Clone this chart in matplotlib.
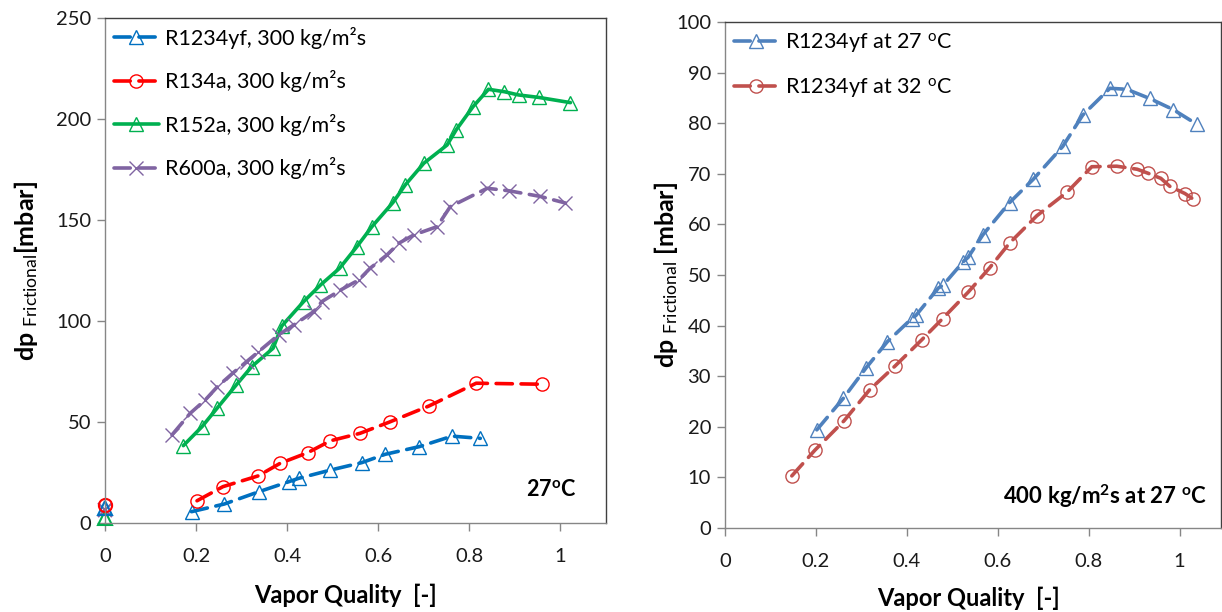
import numpy as np
import matplotlib
matplotlib.use('Agg')
import matplotlib.pyplot as plt

plt.rcParams['font.family'] = ['Lato', 'DejaVu Sans']
plt.rcParams['mathtext.fontset'] = 'custom'
plt.rcParams['mathtext.rm'] = 'Lato'
plt.rcParams['mathtext.it'] = 'Lato:italic'
plt.rcParams['mathtext.bf'] = 'Lato:bold'

# ---- left panel: 300 kg/m2s, 27 C ----
x_r1234yf = [0.190, 0.262, 0.338, 0.403, 0.425, 0.495, 0.564, 0.615, 0.690, 0.762, 0.824]
dp_r1234yf = [5.6, 9.4, 15.5, 20.4, 22.1, 26.2, 29.9, 34.0, 37.8, 43.0, 41.9]

x_r134a = [0.202, 0.259, 0.336, 0.385, 0.445, 0.495, 0.560, 0.626, 0.711, 0.815, 0.960]
dp_r134a = [11.0, 18.0, 23.3, 29.6, 34.8, 40.7, 44.4, 50.1, 57.9, 69.2, 68.7]

x_r152a = [0.172, 0.213, 0.246, 0.288, 0.322, 0.369, 0.388, 0.436, 0.473, 0.515, 0.553,
           0.586, 0.632, 0.659, 0.700, 0.751, 0.771, 0.808, 0.842, 0.877, 0.908, 0.952, 1.022]
dp_r152a = [38.3, 47.7, 56.8, 68.3, 77.4, 86.5, 97.5, 109.6, 117.8, 126.1, 136.8,
            146.7, 158.6, 167.3, 178.1, 187.1, 194.6, 206.1, 214.7, 213.5, 211.9, 210.7, 208.1]

x_r600a = [0.147, 0.187, 0.220, 0.246, 0.282, 0.311, 0.337, 0.381, 0.414, 0.458, 0.476, 0.517,
           0.557, 0.582, 0.619, 0.645, 0.678, 0.729, 0.758, 0.839, 0.886, 0.955, 1.011]
dp_r600a = [43.6, 54.3, 60.9, 67.3, 74.5, 79.9, 84.8, 93.1, 98.0, 104.6, 109.6, 115.3,
            120.3, 126.1, 132.7, 138.5, 142.6, 146.7, 156.6, 165.7, 164.5, 161.7, 158.4]

# single points logged at zero quality
dp0_r1234yf = 7.4
dp0_r134a = 8.9
dp0_r152a = 2.5
dp0_r600a = 6.4

# ---- right panel: R1234yf, 400 kg/m2s ----
x_27 = [0.202, 0.260, 0.310, 0.357, 0.411, 0.420, 0.469, 0.480, 0.524, 0.535, 0.567,
        0.626, 0.678, 0.743, 0.787, 0.847, 0.884, 0.934, 0.986, 1.038]
dp_27 = [19.4, 25.6, 31.6, 36.8, 41.4, 42.0, 47.4, 48.0, 52.6, 53.5, 57.9,
         64.3, 68.9, 75.4, 81.6, 86.9, 86.7, 84.9, 82.7, 79.8]

x_32 = [0.147, 0.198, 0.262, 0.318, 0.374, 0.433, 0.479, 0.535, 0.582, 0.626, 0.686,
        0.753, 0.807, 0.862, 0.907, 0.931, 0.959, 0.979, 1.012, 1.030]
dp_32 = [10.3, 15.4, 21.2, 27.3, 32.0, 37.2, 41.4, 46.6, 51.4, 56.3, 61.7,
         66.4, 71.4, 71.5, 70.9, 70.1, 69.1, 67.5, 66.1, 65.0]

W, H = 1222, 612
fig = plt.figure(figsize=(W / 100, H / 100), dpi=100)
ax1 = fig.add_axes([105 / W, 1 - 523 / H, 501 / W, 505 / H])
ax2 = fig.add_axes([725 / W, 1 - 528 / H, 496 / W, 506 / H])

lw = 2.6
ms = 9.5
dash = (4.5, 2.4)


def series(ax, x, y, color, marker, dashed=True, label=None):
    kw = dict(color=color, lw=lw, marker=marker, ms=ms, mfc='none', mec=color,
              mew=1.0, label=label, solid_capstyle='round', dash_capstyle='round')
    if dashed:
        kw['dashes'] = dash
    ax.plot(x, y, **kw)


c_blue, c_red, c_green, c_purple = '#0070C0', '#FF0000', '#00B050', '#8064A2'
series(ax1, x_r1234yf, dp_r1234yf, c_blue, '^', label='R1234yf, 300 kg/m²s')
series(ax1, x_r134a, dp_r134a, c_red, 'o', label='R134a, 300 kg/m²s')
series(ax1, x_r152a, dp_r152a, c_green, '^', dashed=False, label='R152a, 300 kg/m²s')
series(ax1, x_r600a, dp_r600a, c_purple, 'x', label='R600a, 300 kg/m²s')
for y0, c, m in [(dp0_r152a, c_green, '^'), (dp0_r600a, c_purple, 'x'),
                 (dp0_r1234yf, c_blue, '^'), (dp0_r134a, c_red, 'o')]:
    ax1.plot([0], [y0], ls='none', marker=m, ms=ms, mfc='none', mec=c, mew=1.5, clip_on=False)

series(ax2, x_27, dp_27, '#4F81BD', '^', label='R1234yf at 27 $^{\\mathrm{o}}$C')
series(ax2, x_32, dp_32, '#C0504D', 'o', label='R1234yf at 32 $^{\\mathrm{o}}$C')

ax1.set_xlim(0, 1.1)
ax1.set_ylim(0, 250)
ax1.set_yticks(np.arange(0, 251, 50))
ax2.set_xlim(0, 496 / 454.5)
ax2.set_ylim(0, 100)
ax2.set_yticks(np.arange(0, 101, 10))

for ax in (ax1, ax2):
    ax.set_xticks([0, 0.2, 0.4, 0.6, 0.8, 1.0])
    ax.set_xticklabels(['0', '0.2', '0.4', '0.6', '0.8', '1'])
    ax.tick_params(direction='out', length=6, width=1, color='#868686',
                   labelsize=14.5, pad=4, labelcolor='#1a1a1a')
    ax.tick_params(axis='x', pad=12)
    ax.spines['left'].set_color('#868686')
    ax.spines['bottom'].set_color('#868686')
    ax.spines['top'].set_color('#404040')
    ax.spines['right'].set_color('#404040')
    for s in ax.spines.values():
        s.set_linewidth(1.0)
    ax.set_xlabel('Vapor Quality  [-]', fontsize=17, fontweight='bold')
    ax.legend(loc='upper left', frameon=False, fontsize=15.5, handlelength=2.1,
              handletextpad=0.3, labelspacing=1.0, borderaxespad=0.15,
              borderpad=0.25)

ax1.set_ylabel('dp $_{\\mathrm{Frictional}}$[mbar]', fontsize=18, fontweight='bold')
ax2.set_ylabel('dp $_{\\mathrm{Frictional}}$ [mbar]', fontsize=18, fontweight='bold')
ax1.yaxis.set_label_coords(-0.13, 0.5)
ax2.yaxis.set_label_coords(-0.09, 0.5)
ax1.xaxis.set_label_coords(0.48, -0.12)
ax2.xaxis.set_label_coords(0.49, -0.115)

ax1.text(0.94, 0.045, '27$^{\\mathbf{o}}$C', transform=ax1.transAxes, ha='right',
         va='bottom', fontsize=15.5, fontweight='bold')
ax2.text(0.972, 0.035, '400 kg/m$^{\\mathbf{2}}$s at 27 $^{\\mathbf{o}}$C',
         transform=ax2.transAxes, ha='right', va='bottom', fontsize=16, fontweight='bold')

fig.savefig('out.png', dpi=100)
